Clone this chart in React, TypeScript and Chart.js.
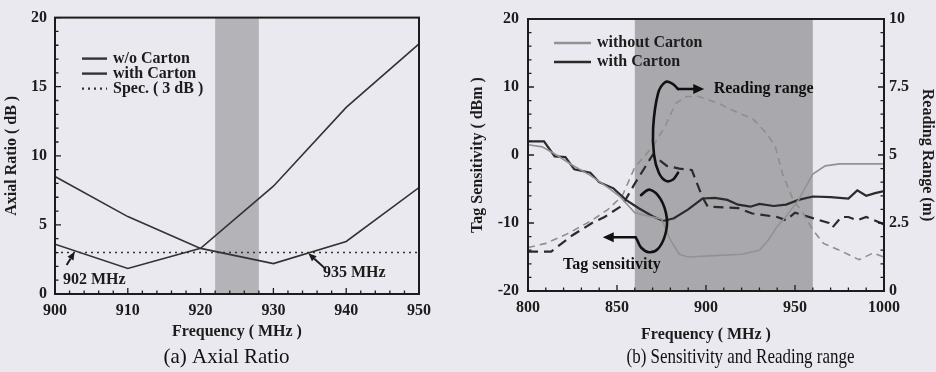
import React, { useEffect, useRef } from "react";
import { Chart, registerables } from "chart.js";

Chart.register(...registerables);

const FONT = '"Liberation Serif", "Times New Roman", Times, serif';
const INK = "#1c1c1c";
const BG = "#e9e9ef";

// ---------- (a) Axial Ratio ----------
const axialFreq = [900, 910, 920, 930, 940, 950];
const axialWithoutCarton = [8.5, 5.6, 3.3, 2.2, 3.8, 7.7];
const axialWithCarton = [3.6, 1.85, 3.3, 7.8, 13.5, 18.1];
const specFreq = [900, 950];
const specLevel = [3, 3];
const axialBand = [922, 928];
const axialLabels = ["w/o Carton", "with Carton", "Spec. ( 3 dB )"];

// ---------- (b) Sensitivity and Reading range ----------
const sensWoFreq = [800, 808, 816, 825, 835, 845, 852, 860, 868, 875, 880, 885, 890, 905, 920, 930, 935, 940, 945, 952, 960, 967, 975, 1000];
const sensWo = [1.5, 1.2, 0, -1.5, -3, -4.8, -6.2, -8.5, -9, -9.4, -12.5, -14.6, -15, -14.8, -14.6, -14, -12.5, -10.5, -9, -6.6, -2.8, -1.6, -1.3, -1.3];
const sensWithFreq = [800, 809, 815, 821, 826, 835, 840, 848, 855, 862, 870, 876, 882, 890, 898, 905, 912, 918, 925, 930, 938, 945, 952, 960, 970, 980, 985, 990, 995, 1000];
const sensWith = [2, 2, -0.2, -0.3, -2.1, -2.6, -4, -4.9, -6.6, -7.8, -9, -9.7, -9.3, -8, -6.4, -6.3, -6.6, -7.3, -7.6, -7.2, -7.5, -7.3, -6.6, -6.1, -6.2, -6.4, -5.2, -6, -5.6, -5.3];
const rangeWoFreq = [800, 810, 822, 836, 845, 853, 860, 870, 877, 883, 889, 896, 907, 918, 926, 934, 939, 943, 949, 954, 960, 966, 975, 986, 994, 1000];
const rangeWo = [1.6, 1.75, 2.1, 2.6, 3.0, 3.5, 4.55, 5.3, 6.05, 6.9, 7.15, 7.15, 6.9, 6.55, 6.35, 5.8, 5.3, 4.3, 3.35, 2.9, 2.25, 1.75, 1.5, 1.15, 1.4, 1.25];
const rangeWithFreq = [800, 813, 825, 836, 843, 853, 860, 870, 878, 885, 892, 898, 901, 918, 926, 940, 945, 950, 960, 969, 971, 976, 980, 985, 990, 1000];
const rangeWith = [1.45, 1.45, 2.05, 2.5, 2.72, 3.15, 3.95, 5.0, 4.6, 4.5, 4.45, 3.45, 3.1, 3.05, 2.85, 2.72, 2.6, 2.88, 2.68, 2.5, 2.33, 2.72, 2.72, 2.6, 2.72, 2.45];
const sensBand = [860, 960];
const sensLabels = ["without Carton", "with Carton"];

// annotation anchors (data units)
const noteA = {
  left: { text: "902 MHz", tail: [901.6, 2.1], tip: [902.7, 3.05], at: [901.1, 1.0] },
  right: { text: "935 MHz", tail: [937.2, 1.8], tip: [934.8, 2.94], at: [936.8, 1.5] },
};
const noteB = {
  reading: {
    text: "Reading range",
    curve: [[884.3, 9.7], [881, 10.5], [877, 10.7], [873, 9], [870.3, 4], [870.8, 0], [873.5, -2.6], [877.5, -3.8], [881.5, -3.6], [884.3, -2.6]],
    arrowTo: [899, 9.7],
    at: [904.3, 9.7],
  },
  tag: {
    text: "Tag sensitivity",
    curve: [[863.5, -5.9], [868.5, -5.1], [874.5, -6.5], [878, -9.3], [877, -11.8], [873, -13.8], [868, -14.3], [863.5, -13.6], [861.5, -12.6], [860.5, -12.1]],
    arrowTo: [842, -12.1],
    at: [819.7, -16.2],
  },
};

const pts = (xs: number[], ys: number[]) => xs.map((x, i) => ({ x, y: ys[i] }));
const plain = (v: any) => String(v);

function smooth(ctx: CanvasRenderingContext2D, p: number[][]) {
  ctx.moveTo(p[0][0], p[0][1]);
  for (let i = 0; i < p.length - 1; i++) {
    const p0 = p[i - 1] || p[i];
    const p1 = p[i];
    const p2 = p[i + 1];
    const p3 = p[i + 2] || p2;
    ctx.bezierCurveTo(
      p1[0] + (p2[0] - p0[0]) / 6, p1[1] + (p2[1] - p0[1]) / 6,
      p2[0] - (p3[0] - p1[0]) / 6, p2[1] - (p3[1] - p1[1]) / 6,
      p2[0], p2[1]
    );
  }
}

function arrow(ctx: CanvasRenderingContext2D, x1: number, y1: number, x2: number, y2: number, len: number, half: number) {
  const a = Math.atan2(y2 - y1, x2 - x1);
  const bx = x2 - len * Math.cos(a);
  const by = y2 - len * Math.sin(a);
  ctx.beginPath();
  ctx.moveTo(x1, y1);
  ctx.lineTo(bx, by);
  ctx.stroke();
  ctx.beginPath();
  ctx.moveTo(x2, y2);
  ctx.lineTo(bx + half * Math.sin(a), by - half * Math.cos(a));
  ctx.lineTo(bx - half * Math.sin(a), by + half * Math.cos(a));
  ctx.closePath();
  ctx.fill();
}

function drawTicks(chart: any, id: string, side: string, minor: number) {
  const s = chart.scales[id];
  const ca = chart.chartArea;
  const ctx = chart.ctx as CanvasRenderingContext2D;
  const majors = s.ticks.map((t: any) => t.value);
  const n = Math.round((s.max - s.min) / minor);
  ctx.save();
  ctx.strokeStyle = INK;
  ctx.lineWidth = 1.3;
  ctx.beginPath();
  for (let i = 0; i <= n; i++) {
    const v = s.min + i * minor;
    const major = majors.some((m: number) => Math.abs(m - v) < 1e-6);
    const len = major ? 6 : 3.5;
    const p = s.getPixelForValue(v);
    if (side === "bottom") { ctx.moveTo(p, ca.bottom); ctx.lineTo(p, ca.bottom - len); }
    if (side === "left") { ctx.moveTo(ca.left, p); ctx.lineTo(ca.left + len, p); }
    if (side === "right") { ctx.moveTo(ca.right, p); ctx.lineTo(ca.right - len, p); }
  }
  ctx.stroke();
  ctx.restore();
}

function decor(cfg: any) {
  return {
    id: "decor",
    beforeDatasetsDraw(chart: any) {
      const { ctx, chartArea: ca, scales } = chart;
      const x0 = scales.x.getPixelForValue(cfg.band[0]);
      const x1 = scales.x.getPixelForValue(cfg.band[1]);
      ctx.save();
      ctx.fillStyle = cfg.bandColor;
      ctx.fillRect(x0, ca.top, x1 - x0, ca.bottom - ca.top);
      ctx.restore();
    },
    afterDatasetsDraw(chart: any) {
      const ctx = chart.ctx as CanvasRenderingContext2D;
      const ca = chart.chartArea;
      ctx.save();
      ctx.strokeStyle = INK;
      ctx.lineWidth = 2;
      ctx.strokeRect(ca.left, ca.top, ca.right - ca.left, ca.bottom - ca.top);
      ctx.restore();
      cfg.ticks.forEach((t: any) => drawTicks(chart, t.id, t.side, t.minor));
      // legend
      const lg = cfg.legend;
      ctx.save();
      ctx.font = `bold 16px ${FONT}`;
      ctx.textBaseline = "middle";
      ctx.textAlign = "left";
      ctx.fillStyle = INK;
      lg.items.forEach((it: any, i: number) => {
        const ds = chart.data.datasets[it.ds];
        const y = ca.top + lg.dy + i * lg.gap;
        ctx.beginPath();
        ctx.strokeStyle = ds.borderColor;
        ctx.lineWidth = lg.lineWidth;
        ctx.setLineDash(ds.borderDash || []);
        ctx.moveTo(ca.left + lg.dx, y);
        ctx.lineTo(ca.left + lg.dx + lg.lineLen, y);
        ctx.stroke();
        ctx.setLineDash([]);
        ctx.fillText(it.label, ca.left + lg.textDx, y);
      });
      ctx.restore();
      if (cfg.extra) cfg.extra(chart);
    },
    afterDraw(chart: any) {
      const ctx = chart.ctx as CanvasRenderingContext2D;
      const c = cfg.caption;
      ctx.save();
      ctx.font = `21px ${FONT}`;
      ctx.fillStyle = "#111";
      ctx.textAlign = "center";
      ctx.textBaseline = "middle";
      ctx.fillText(c.text, c.x, c.y, c.maxWidth);
      ctx.restore();
    },
  };
}

const tickFont = { family: FONT, size: 16, weight: "bold" as const };
const titleFont = { family: FONT, size: 16, weight: "bold" as const };

function configA(): any {
  return {
    type: "line",
    data: {
      datasets: [
        { label: axialLabels[0], data: pts(axialFreq, axialWithoutCarton), borderColor: "#333", borderWidth: 1.6, pointRadius: 0 },
        { label: axialLabels[1], data: pts(axialFreq, axialWithCarton), borderColor: "#333", borderWidth: 1.6, pointRadius: 0 },
        { label: axialLabels[2], data: pts(specFreq, specLevel), borderColor: "#333", borderWidth: 1.6, borderDash: [2, 4], pointRadius: 0 },
      ],
    },
    options: {
      responsive: false,
      animation: false,
      events: [],
      layout: { padding: { top: 17, right: 47, bottom: 30, left: 0 } },
      plugins: { legend: { display: false }, tooltip: { enabled: false } },
      scales: {
        x: {
          type: "linear", min: 900, max: 950,
          ticks: { stepSize: 10, font: tickFont, color: INK, padding: 7, maxRotation: 0, callback: plain },
          grid: { display: false, drawTicks: false },
          border: { display: false },
          title: { display: true, text: "Frequency ( MHz )", font: titleFont, color: INK, padding: { top: 0, bottom: 1 } },
          afterFit: (s: any) => { s.height = 48; },
        },
        y: {
          type: "linear", min: 0, max: 20,
          ticks: { stepSize: 5, font: tickFont, color: INK, padding: 8, callback: plain },
          grid: { display: false, drawTicks: false },
          border: { display: false },
          title: { display: true, text: "Axial Ratio ( dB )", font: titleFont, color: INK, padding: { top: 2, bottom: 0 } },
          afterFit: (s: any) => { s.width = 55; },
        },
      },
    },
    plugins: [
      decor({
        band: axialBand,
        bandColor: "#b3b3b8",
        ticks: [
          { id: "x", side: "bottom", minor: 2 },
          { id: "y", side: "left", minor: 1 },
        ],
        legend: { dx: 27, dy: 41, gap: 15, lineLen: 25, textDx: 58, lineWidth: 2.4, items: [{ label: axialLabels[0], ds: 0 }, { label: axialLabels[1], ds: 1 }, { label: axialLabels[2], ds: 2 }] },
        caption: { text: "(a) Axial Ratio", x: 226.5, y: 357, maxWidth: 140 },
        extra: (chart: any) => {
          const ctx = chart.ctx as CanvasRenderingContext2D;
          const { x, y } = chart.scales;
          ctx.save();
          ctx.strokeStyle = INK;
          ctx.fillStyle = INK;
          ctx.lineWidth = 2;
          ctx.font = `bold 16px ${FONT}`;
          ctx.textBaseline = "middle";
          ctx.textAlign = "left";
          [noteA.left, noteA.right].forEach((n) => {
            arrow(ctx, x.getPixelForValue(n.tail[0]), y.getPixelForValue(n.tail[1]), x.getPixelForValue(n.tip[0]), y.getPixelForValue(n.tip[1]), 8, 3.5);
            ctx.fillText(n.text, x.getPixelForValue(n.at[0]), y.getPixelForValue(n.at[1]));
          });
          ctx.restore();
        },
      }),
    ],
  };
}

function configB(): any {
  return {
    type: "line",
    data: {
      datasets: [
        { label: sensLabels[0], data: pts(sensWoFreq, sensWo), borderColor: "#929292", borderWidth: 1.6, pointRadius: 0, yAxisID: "y" },
        { label: sensLabels[1], data: pts(sensWithFreq, sensWith), borderColor: "#2b2b2b", borderWidth: 2.2, pointRadius: 0, yAxisID: "y" },
        { label: sensLabels[0], data: pts(rangeWoFreq, rangeWo), borderColor: "#8e8e8e", borderWidth: 1.6, borderDash: [7, 5], pointRadius: 0, yAxisID: "y1" },
        { label: sensLabels[1], data: pts(rangeWithFreq, rangeWith), borderColor: "#2b2b2b", borderWidth: 2.2, borderDash: [10, 6], pointRadius: 0, yAxisID: "y1" },
      ],
    },
    options: {
      responsive: false,
      animation: false,
      events: [],
      layout: { padding: { top: 19, right: 0, bottom: 28, left: 0 } },
      plugins: { legend: { display: false }, tooltip: { enabled: false } },
      scales: {
        x: {
          type: "linear", min: 800, max: 1000,
          ticks: { stepSize: 50, font: tickFont, color: INK, padding: 7, maxRotation: 0, callback: plain },
          grid: { display: false, drawTicks: false },
          border: { display: false },
          title: { display: true, text: "Frequency ( MHz )", font: titleFont, color: INK, padding: { top: 0, bottom: 0 } },
          afterFit: (s: any) => { s.height = 53; },
        },
        y: {
          type: "linear", position: "left", min: -20, max: 20,
          ticks: { stepSize: 10, font: tickFont, color: INK, padding: 9, callback: plain },
          grid: { display: false, drawTicks: false },
          border: { display: false },
          title: { display: true, text: "Tag Sensitivity ( dBm )", font: titleFont, color: INK, padding: { top: 2, bottom: 0 } },
          afterFit: (s: any) => { s.width = 62; },
        },
        y1: {
          type: "linear", position: "right", min: 0, max: 10,
          ticks: { stepSize: 2.5, font: tickFont, color: INK, padding: 5, callback: plain },
          grid: { display: false, drawTicks: false },
          border: { display: false },
          title: { display: true, text: "Reading Range (m)", font: titleFont, color: INK, padding: { top: -1, bottom: 0 } },
          afterFit: (s: any) => { s.width = 52; },
        },
      },
    },
    plugins: [
      decor({
        band: sensBand,
        bandColor: "#a9a9ad",
        ticks: [
          { id: "x", side: "bottom", minor: 10 },
          { id: "y", side: "left", minor: 2 },
          { id: "y1", side: "right", minor: 0.5 },
        ],
        legend: { dx: 26, dy: 24, gap: 19, lineLen: 37, textDx: 69, lineWidth: 2.4, items: [{ label: sensLabels[0], ds: 0 }, { label: sensLabels[1], ds: 1 }] },
        caption: { text: "(b) Sensitivity and Reading range", x: 274.5, y: 357, maxWidth: 228 },
        extra: (chart: any) => {
          const ctx = chart.ctx as CanvasRenderingContext2D;
          const { x, y } = chart.scales;
          const P = (p: number[]) => [x.getPixelForValue(p[0]), y.getPixelForValue(p[1])];
          ctx.save();
          ctx.strokeStyle = "#111";
          ctx.fillStyle = "#111";
          ctx.lineWidth = 2.6;
          ctx.lineCap = "round";
          [noteB.reading, noteB.tag].forEach((n) => {
            const c = n.curve.map(P);
            ctx.beginPath();
            smooth(ctx, c);
            ctx.stroke();
            const start = c[0];
            const end = c[c.length - 1];
            const from = n === noteB.reading ? start : end;
            const to = P(n.arrowTo);
            arrow(ctx, from[0], from[1], to[0], to[1], 11, 5);
          });
          ctx.font = `bold 16px ${FONT}`;
          ctx.textBaseline = "middle";
          ctx.textAlign = "left";
          [noteB.reading, noteB.tag].forEach((n) => {
            const a = P(n.at);
            ctx.fillText(n.text, a[0], a[1]);
          });
          ctx.restore();
        },
      }),
    ],
  };
}

export default function App() {
  const refA = useRef<HTMLCanvasElement>(null);
  const refB = useRef<HTMLCanvasElement>(null);
  useEffect(() => {
    const a = new Chart(refA.current as HTMLCanvasElement, configA());
    const b = new Chart(refB.current as HTMLCanvasElement, configB());
    return () => {
      a.destroy();
      b.destroy();
    };
  }, []);
  return (
    <div style={{ position: "absolute", left: 0, top: 0, width: 936, height: 372, background: BG, overflow: "hidden" }}>
      <canvas ref={refA} width={466} height={372} style={{ position: "absolute", left: 0, top: 0 }} />
      <canvas ref={refB} width={470} height={372} style={{ position: "absolute", left: 466, top: 0 }} />
    </div>
  );
}
